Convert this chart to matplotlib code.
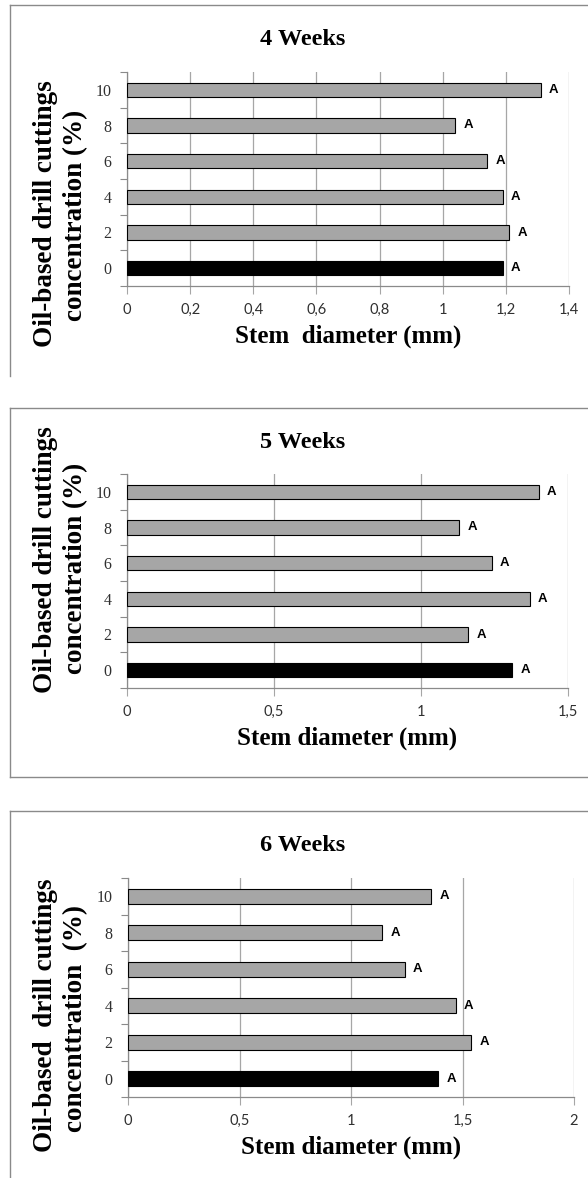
import matplotlib
matplotlib.use("Agg")
import matplotlib.pyplot as plt
from matplotlib.lines import Line2D
import numpy as np

# ---------------- data ----------------
concentrations = ["0", "2", "4", "6", "8", "10"]
titles = ["4 Weeks", "5 Weeks", "6 Weeks"]
stem_4w = [1.19, 1.21, 1.19, 1.14, 1.04, 1.31]
stem_5w = [1.31, 1.16, 1.37, 1.24, 1.13, 1.40]
stem_6w = [1.39, 1.54, 1.47, 1.24, 1.14, 1.36]
letters_4w = ["A", "A", "A", "A", "A", "A"]
letters_5w = ["A", "A", "A", "A", "A", "A"]
letters_6w = ["A", "A", "A", "A", "A", "A"]
xticks_4w = [0, 0.2, 0.4, 0.6, 0.8, 1.0, 1.2, 1.4]
xticklabels_4w = ["0", "0,2", "0,4", "0,6", "0,8", "1", "1,2", "1,4"]
xticks_5w = [0, 0.5, 1.0, 1.5]
xticklabels_5w = ["0", "0,5", "1", "1,5"]
xticks_6w = [0, 0.5, 1.0, 1.5, 2.0]
xticklabels_6w = ["0", "0,5", "1", "1,5", "2"]
xlabels = ["Stem  diameter (mm)", "Stem diameter (mm)", "Stem diameter (mm)"]
ylabel_line1 = ["Oil-based drill cuttings", "Oil-based drill cuttings", "Oil-based  drill cuttings"]
ylabel_line2 = ["concentration (%)", "concentration (%)", "concenttration  (%)"]

# ---------------- layout (pixels) ----------------
W, H = 588, 1178
fig = plt.figure(figsize=(W / 100, H / 100), dpi=100)
fig.patch.set_facecolor("white")


def fx(x):
    return x / W


def fy(y):
    return 1 - y / H


panels = [
    dict(vals=stem_4w, letters=letters_4w, xt=xticks_4w, xtl=xticklabels_4w,
         box=(127, 569, 72, 286), top=5, ylab_y=(214, 215)),
    dict(vals=stem_5w, letters=letters_5w, xt=xticks_5w, xtl=xticklabels_5w,
         box=(127, 568, 474, 688), top=408, ylab_y=(560, 568)),
    dict(vals=stem_6w, letters=letters_6w, xt=xticks_6w, xtl=xticklabels_6w,
         box=(128, 574, 878, 1097), top=811, ylab_y=(1015, 1018)),
]

border_col = "#8a8a8a"
grid_col = "#a6a6a6"
gray_bar = "#a6a6a6"

for i, p in enumerate(panels):
    l, r, t, b = p["box"]
    ax = fig.add_axes([fx(l), fy(b), (r - l) / W, (b - t) / H])
    ypos = np.arange(len(concentrations))
    colors = ["black"] + [gray_bar] * (len(concentrations) - 1)
    ax.barh(ypos, p["vals"], height=0.4, color=colors, edgecolor="black",
            linewidth=0.8, zorder=3)
    ax.set_xlim(0, p["xt"][-1])
    ax.set_ylim(-0.5, len(concentrations) - 0.5)
    ax.set_xticks(p["xt"])
    ax.set_xticklabels(p["xtl"], fontfamily="Lato", fontsize=10.5, color="#303030")
    ax.set_yticks(ypos)
    ax.set_yticklabels(concentrations, fontfamily="Liberation Serif", fontsize=11.5,
                       color="#303030")
    ax.set_yticks(np.arange(-0.5, len(concentrations), 1), minor=True)
    ax.tick_params(axis="y", which="major", length=0, pad=11)
    ax.tick_params(axis="y", which="minor", length=5, color=border_col, width=0.8)
    ax.tick_params(axis="x", which="major", length=6, color=grid_col, width=0.8, pad=6)
    ax.grid(axis="x", color=grid_col, linewidth=0.9, zorder=0)
    ax.set_axisbelow(True)
    for s in ["top", "right"]:
        ax.spines[s].set_visible(False)
    for s in ["left", "bottom"]:
        ax.spines[s].set_color(border_col)
        ax.spines[s].set_linewidth(0.9)
    for yv, v, lt in zip(ypos, p["vals"], p["letters"]):
        ax.annotate(lt, xy=(v, yv), xytext=(6, 0), textcoords="offset points",
                    ha="left", va="center", fontfamily="Liberation Sans",
                    fontweight="bold", fontsize=9.5, color="black")

    top = p["top"]
    # title
    fig.text(fx(303), fy(top + 40), titles[i], ha="center", va="baseline",
             fontfamily="Liberation Serif", fontweight="bold", fontsize=17.5)
    # x label
    fig.text(fx((l + r) / 2), fy(b + 57), xlabels[i], ha="center", va="baseline",
             fontfamily="Liberation Serif", fontweight="bold", fontsize=18)
    # y label (two lines)
    fig.text(fx(46), fy(p["ylab_y"][0]), ylabel_line1[i], ha="center", va="center",
             rotation=90, fontfamily="Liberation Serif", fontweight="bold", fontsize=19.5)
    fig.text(fx(76), fy(p["ylab_y"][1]), ylabel_line2[i], ha="center", va="center",
             rotation=90, fontfamily="Liberation Serif", fontweight="bold", fontsize=19.5)

# panel borders
lw = 1.0


def hline(y, x0=10, x1=W + 5):
    fig.add_artist(Line2D([fx(x0), fx(x1)], [fy(y), fy(y)], color=border_col, lw=lw,
                          transform=fig.transFigure))


def vline(x, y0, y1):
    fig.add_artist(Line2D([fx(x), fx(x)], [fy(y0), fy(y1)], color=border_col, lw=lw,
                          transform=fig.transFigure))


hline(5)
vline(10, 5, 376)
hline(408)
hline(777)
vline(10, 408, 777)
hline(811)
vline(10, 811, H + 5)

fig.savefig("out.png", dpi=100, facecolor="white")
